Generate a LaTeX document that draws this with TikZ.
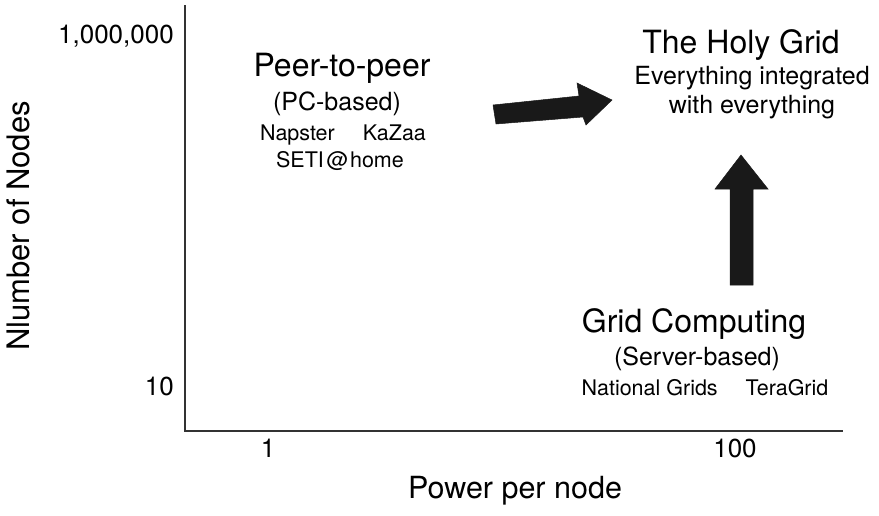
\documentclass[tikz,border=0pt]{standalone}
\usepackage{fontspec}
\setmainfont{TeX Gyre Heros}
\begin{document}
\begin{tikzpicture}[x=1pt,y=-1pt,
  lbl/.style={inner sep=0pt,anchor=base,text=black},
  ttl/.style={lbl,font=\fontsize{32}{38}\selectfont},
  sub/.style={lbl,font=\fontsize{25}{30}\selectfont},
  small/.style={lbl,font=\fontsize{21.5}{26}\selectfont},
  ax/.style={lbl,font=\fontsize{26}{31}\selectfont},
  axline/.style={draw=black!80,line width=1.3pt},
  blk/.style={fill=black!90,draw=black!90,line width=0.5pt,line join=miter}]
\useasboundingbox (0,0) rectangle (879,515);
% axes
\coordinate (top) at (185,5);
\coordinate (org) at (185,431);
\coordinate (xend) at (843,431);
\draw[axline] (top) -- (org) -- (xend);
% axis tick labels
\node[ax,anchor=base east] (ymax) at (174,43) {1,000,000};
\node[ax,anchor=base east] (ymin) at (174,395) {10};
\node[ax] (xmin) at (268,457) {1};
\node[ax] (xmax) at (735,457) {100};
\node[lbl,font=\fontsize{30.5}{36}\selectfont] (xlab) at (515,498) {Power per node};
\node[lbl,font=\fontsize{31}{36}\selectfont,rotate=90] (ylab) at (29,226) {Nlumber of Nodes};
% peer to peer
\node[ttl] (p2p) at (342,76) {Peer-to-peer};
\node[sub] (pc) at (337,110) {(PC-based)};
\node[small] (nap) at (343,140) {Napster\hspace{1.3em}KaZaa};
\node[small] (seti) at (340,167) {SETI\hspace{0.12em}@\hspace{0.08em}home};
% holy grid
\node[ttl] (holy) at (741,53) {The Holy Grid};
\node[sub] (ev1) at (752,84) {Everything integrated};
\node[sub] (ev2) at (752,113) {with everything};
% grid computing
\node[ttl] (gc) at (694,332) {Grid Computing};
\node[sub] (srv) at (697,365) {(Server-based)};
\node[small] (ng) at (705,395) {National Grids\hspace{1.3em}TeraGrid};
% block arrows
\fill[blk] (493,105) -- (579,96) -- (577,83) -- (612,100) -- (586,125) -- (583,117) -- (496,124) -- cycle;
\fill[blk] (741,155) -- (768,189) -- (753,189) -- (753,285) -- (730,285) -- (730,189) -- (715,189) -- cycle;
\end{tikzpicture}
\end{document}
